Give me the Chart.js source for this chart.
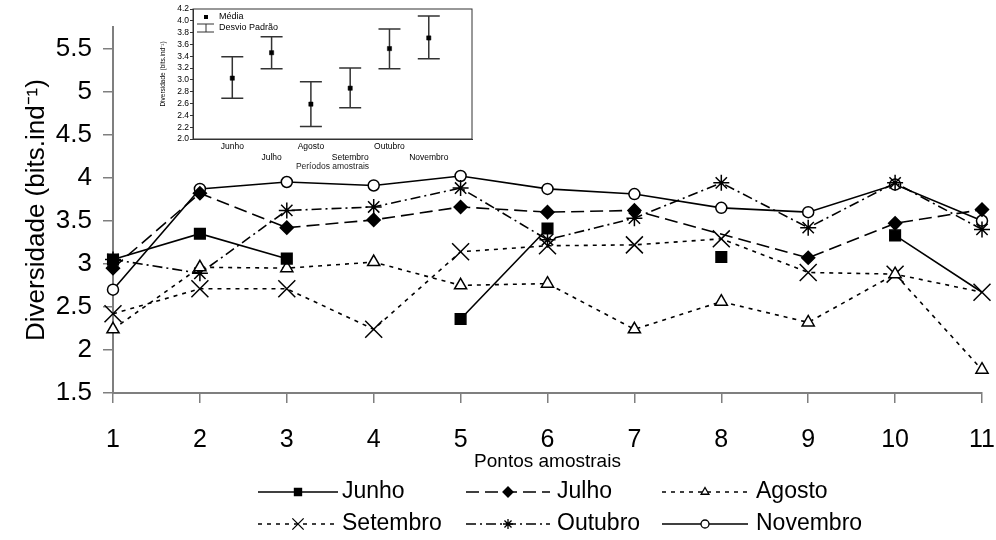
<!DOCTYPE html>
<html lang="pt">
<head>
<meta charset="UTF-8">
<title>Diversidade por ponto amostral</title>
<script src="https://cdn.jsdelivr.net/npm/chart.js"></script>
<style>
  html, body { margin: 0; padding: 0; background: #fff; }
  .wrap { position: relative; width: 996px; height: 540px; }
  #mainChart { position: absolute; left: 0; top: 0; }
  #insetChart { position: absolute; left: 150px; top: 0; }
</style>
</head>
<body>
<div class="wrap">
  <canvas id="mainChart" width="996" height="540"></canvas>
  <canvas id="insetChart" width="330" height="172"></canvas>
</div>
<script>
// pontos amostrais (eixo x)
const pontos = [1, 2, 3, 4, 5, 6, 7, 8, 9, 10, 11];

// diversidade por mes
const junho    = [3.05, 3.35, 3.06, null, 2.36, 3.41, null, 3.08, null, 3.33, 2.67];
const julho    = [2.95, 3.82, 3.42, 3.51, 3.66, 3.60, 3.62, null, 3.07, 3.47, 3.63];
const agosto   = [2.24, 2.96, 2.95, 3.02, 2.75, 2.77, 2.24, 2.56, 2.32, 2.88, 1.77];
const setembro = [2.42, 2.71, 2.71, 2.24, 3.14, 3.21, 3.22, 3.29, 2.90, 2.88, 2.67];
const outubro  = [3.05, 2.89, 3.62, 3.66, 3.88, 3.28, 3.53, 3.94, 3.42, 3.94, 3.40];
const novembro = [2.70, 3.87, 3.95, 3.91, 4.02, 3.87, 3.81, 3.65, 3.60, 3.92, 3.50];

// grafico pequeno: media e desvio padrao por periodo
const periodos  = ['Junho', 'Julho', 'Agosto', 'Setembro', 'Outubro', 'Novembro'];
const media     = [3.03, 3.46, 2.59, 2.86, 3.53, 3.71];
const desvioInf = [2.69, 3.19, 2.21, 2.53, 3.19, 3.36];
const desvioSup = [3.39, 3.73, 2.97, 3.20, 3.86, 4.08];

const fonte = "'Liberation Sans', Arial, sans-serif";
const fonteEstreita = "'Liberation Sans Narrow', 'Arial Narrow', 'Liberation Sans', sans-serif";
const cinza = '#7f7f7f';

function serie(label, valores, estilo) {
    return Object.assign({
        label: label,
        data: pontos.map((p, i) => ({ x: p, y: valores[i] })),
        borderColor: '#000',
        pointBorderColor: '#000',
        borderWidth: 1.6,
        pointBorderWidth: 1.5,
        clip: false,
        tension: 0
    }, estilo);
}

const datasets = [
    serie('Junho', junho, { pointStyle: 'rect', pointRadius: [7.5,7.5,7.5,7.5,7.5,7.5,7.5,7.5,7.5,7.5,0], pointBackgroundColor: '#000', borderDash: [], legR: 5 }),
    serie('Julho', julho, { pointStyle: 'rectRot', pointRadius: 6.5, pointBackgroundColor: '#000', borderDash: [13, 6], spanGaps: true, legR: 5 }),
    serie('Agosto', agosto, { pointStyle: 'triangle', pointRadius: 7, pointBackgroundColor: '#fff', borderDash: [4, 5], legR: 4.5 }),
    serie('Setembro', setembro, { pointStyle: 'crossRot', pointRadius: 12, pointBackgroundColor: '#fff', borderDash: [4, 5], legR: 8 }),
    serie('Outubro', outubro, { pointStyle: 'star', pointRadius: 8, pointBackgroundColor: '#fff', borderDash: [10, 4, 2, 4], legR: 5 }),
    serie('Novembro', novembro, { pointStyle: 'circle', pointRadius: 5.5, pointBackgroundColor: '#fff', borderDash: [], legR: 4 })
];

// legenda em 3 colunas x 2 linhas, desenhada no canvas
const legendaManual = {
    id: 'legendaManual',
    afterDraw(chart) {
        const ctx = chart.ctx;
        const cols = [{ a: 258, b: 338, t: 342 }, { a: 466, b: 550, t: 557 }, { a: 662, b: 748, t: 756 }];
        const linhas = [492, 524];
        ctx.save();
        chart.data.datasets.forEach((ds, i) => {
            const c = cols[i % 3];
            const y = linhas[Math.floor(i / 3)];
            ctx.strokeStyle = '#000';
            ctx.lineWidth = 1.6;
            ctx.setLineDash(ds.borderDash);
            ctx.beginPath();
            ctx.moveTo(c.a, y);
            ctx.lineTo(c.b, y);
            ctx.stroke();
            ctx.setLineDash([]);
            ctx.fillStyle = ds.pointBackgroundColor;
            ctx.lineWidth = 1.3;
            Chart.helpers.drawPoint(ctx, { pointStyle: ds.pointStyle, radius: ds.legR, borderWidth: 1.3, rotation: 0 }, (c.a + c.b) / 2, y);
            ctx.fillStyle = '#000';
            ctx.font = '23px ' + fonte;
            ctx.textBaseline = 'middle';
            ctx.textAlign = 'left';
            ctx.fillText(ds.label, c.t, y);
        });
        ctx.restore();
    }
};

new Chart(document.getElementById('mainChart'), {
    type: 'line',
    data: { datasets: datasets },
    options: {
        responsive: false,
        animation: false,
        devicePixelRatio: 1,
        layout: { padding: { top: 27, right: 14, bottom: 67, left: 0 } },
        plugins: { legend: { display: false }, tooltip: { enabled: false } },
        scales: {
            x: {
                type: 'linear',
                min: 1,
                max: 11,
                ticks: { stepSize: 1, color: '#000', font: { family: fonteEstreita, size: 25 }, padding: 22, maxRotation: 0 },
                grid: { drawOnChartArea: false, drawTicks: true, tickLength: 10, color: cinza, lineWidth: 1.5 },
                border: { color: cinza, width: 2 },
                title: { display: true, text: 'Pontos amostrais', color: '#000', font: { family: fonteEstreita, size: 19 }, padding: { top: 0, bottom: 0 } },
                afterFit: s => { s.height = 80; s.paddingLeft = 0; s.paddingRight = 0; }
            },
            y: {
                min: 1.5,
                max: 5.75,
                ticks: { stepSize: 0.5, includeBounds: false, color: '#000', font: { family: fonte, size: 26 }, padding: 11, callback: v => String(Number(v.toFixed(2))) },
                grid: { drawOnChartArea: false, drawTicks: true, tickLength: 10, color: cinza, lineWidth: 1.5 },
                border: { color: cinza, width: 2 },
                title: { display: true, text: 'Diversidade (bits.ind\u207B\u00B9)', color: '#000', font: { family: fonte, size: 26 }, padding: { top: 21, bottom: 0 } },
                afterFit: s => { s.width = 113; s.paddingTop = 0; s.paddingBottom = 0; }
            }
        }
    },
    plugins: [legendaManual]
});

// grafico pequeno: barras de desvio, moldura e legenda
const desvioPlugin = {
    id: 'desvioPlugin',
    beforeDatasetsDraw(chart) {
        const ctx = chart.ctx;
        const xs = chart.scales.x, ys = chart.scales.y;
        ctx.save();
        ctx.strokeStyle = '#333';
        ctx.lineWidth = 1.5;
        media.forEach((m, i) => {
            const x = xs.getPixelForValue(i + 1);
            const y0 = ys.getPixelForValue(desvioInf[i]);
            const y1 = ys.getPixelForValue(desvioSup[i]);
            ctx.beginPath();
            ctx.moveTo(x, y0); ctx.lineTo(x, y1);
            ctx.moveTo(x - 11, y0); ctx.lineTo(x + 11, y0);
            ctx.moveTo(x - 11, y1); ctx.lineTo(x + 11, y1);
            ctx.stroke();
        });
        ctx.restore();
    },
    afterDraw(chart) {
        const ctx = chart.ctx;
        const a = chart.chartArea;
        ctx.save();
        ctx.strokeStyle = '#333';
        ctx.lineWidth = 1;
        ctx.strokeRect(a.left, a.top, a.right - a.left, a.bottom - a.top);
        // legenda
        ctx.fillStyle = '#000';
        ctx.fillRect(54, 15, 4, 4);
        ctx.strokeStyle = '#333';
        ctx.beginPath();
        ctx.moveTo(47, 24); ctx.lineTo(64, 24);
        ctx.moveTo(56, 24); ctx.lineTo(56, 32);
        ctx.moveTo(47, 32); ctx.lineTo(64, 32);
        ctx.stroke();
        ctx.font = '9px ' + fonte;
        ctx.textBaseline = 'middle';
        ctx.fillText('Média', 69, 17);
        ctx.fillText('Desvio Padrão', 69, 28);
        ctx.restore();
    }
};

new Chart(document.getElementById('insetChart'), {
    type: 'scatter',
    data: {
        datasets: [{
            label: 'Média',
            data: media.map((m, i) => ({ x: i + 1, y: m })),
            pointStyle: 'rect',
            pointRadius: 3,
            pointBackgroundColor: '#000',
            pointBorderColor: '#000',
            pointBorderWidth: 0.5
        }]
    },
    options: {
        responsive: false,
        animation: false,
        devicePixelRatio: 1,
        layout: { padding: { top: 9, right: 8, bottom: 0, left: 0 } },
        plugins: { legend: { display: false }, tooltip: { enabled: false } },
        scales: {
            x: {
                type: 'linear',
                min: 0,
                max: 7.1,
                ticks: {
                    stepSize: 1,
                    includeBounds: false,
                    autoSkip: false,
                    maxRotation: 0,
                    color: '#000',
                    font: { family: fonte, size: 8.5 },
                    padding: 3,
                    callback: v => {
                        const i = v - 1;
                        if (i < 0 || i >= periodos.length) return '';
                        return i % 2 === 0 ? periodos[i] : ['', periodos[i]];
                    }
                },
                grid: { display: false, drawTicks: false, tickLength: 0 },
                border: { color: '#333', width: 1 },
                title: { display: true, text: 'Períodos amostrais', color: '#222', font: { family: fonte, size: 8.5 }, padding: { top: 0, bottom: 0 } },
                afterFit: s => { s.height = 33; s.paddingLeft = 0; s.paddingRight = 0; }
            },
            y: {
                min: 2.0,
                max: 4.2,
                ticks: { stepSize: 0.2, autoSkip: false, color: '#000', font: { family: fonte, size: 8.5 }, padding: 1, callback: v => v.toFixed(1) },
                grid: { drawOnChartArea: false, drawTicks: true, tickLength: 3, color: '#333' },
                border: { color: '#333', width: 1 },
                title: { display: true, text: 'Diversidade (bits.ind\u207B\u00B9)', color: '#000', font: { family: fonteEstreita, size: 6.5 }, padding: { top: 9, bottom: 0 } },
                afterFit: s => { s.width = 43; s.paddingTop = 0; s.paddingBottom = 0; }
            }
        }
    },
    plugins: [desvioPlugin]
});
</script>
</body>
</html>
